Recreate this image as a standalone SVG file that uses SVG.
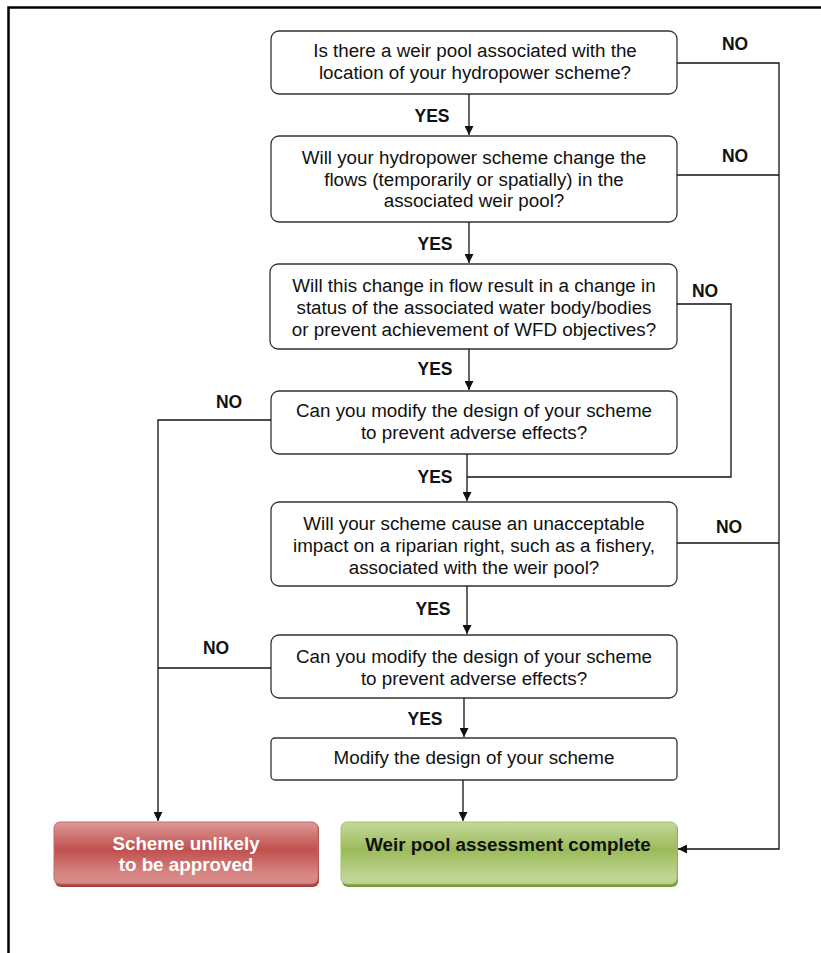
<svg xmlns="http://www.w3.org/2000/svg" width="821" height="953" viewBox="0 0 821 953">
<style>
.box{fill:#fff;stroke:#333;stroke-width:1.3}
.t{font-family:"Liberation Sans",Arial,sans-serif;font-size:18.8px;fill:#111;text-anchor:middle}
.lbl{font-family:"Liberation Sans",Arial,sans-serif;font-size:17.5px;font-weight:bold;fill:#111;text-anchor:middle}
.c{fill:none;stroke:#111;stroke-width:1.3}
.w{font-family:"Liberation Sans",Arial,sans-serif;font-size:18.8px;font-weight:bold;text-anchor:middle}
</style>
<defs>
<marker id="ah" viewBox="0 0 10 10" refX="10" refY="5" markerWidth="9" markerHeight="9" markerUnits="userSpaceOnUse" orient="auto">
<path d="M0,0 L10,5 L0,10 z" fill="#111"/>
</marker>
<linearGradient id="gr" x1="0" y1="0" x2="0" y2="1">
<stop offset="0" stop-color="#dc9a98"/>
<stop offset="0.45" stop-color="#c0504d"/>
<stop offset="0.85" stop-color="#d88886"/>
<stop offset="1" stop-color="#d58a88"/>
</linearGradient>
<linearGradient id="gg" x1="0" y1="0" x2="0" y2="1">
<stop offset="0" stop-color="#c4d89c"/>
<stop offset="0.45" stop-color="#9bbb59"/>
<stop offset="0.85" stop-color="#bcd390"/>
<stop offset="1" stop-color="#c0d596"/>
</linearGradient>
</defs>
<rect width="821" height="953" fill="#fff"/>
<path d="M8.5,953 V7.5 H821" fill="none" stroke="#000" stroke-width="2.5"/>

<g id="n1"><rect class="box" x="271" y="31" width="406" height="63" rx="8"/>
<text class="t" x="475" y="57">Is there a weir pool associated with the</text>
<text class="t" x="475" y="79">location of your hydropower scheme?</text></g>

<g id="n2"><rect class="box" x="271" y="136" width="406" height="86" rx="8"/>
<text class="t" x="474" y="164">Will your hydropower scheme change the</text>
<text class="t" x="474" y="186">flows (temporarily or spatially) in the</text>
<text class="t" x="474" y="207">associated weir pool?</text></g>

<g id="n3"><rect class="box" x="270" y="264" width="407" height="85" rx="8"/>
<text class="t" x="474" y="292">Will this change in flow result in a change in</text>
<text class="t" x="474" y="314">status of the associated water body/bodies</text>
<text class="t" x="474" y="336">or prevent achievement of WFD objectives?</text></g>

<g id="n4"><rect class="box" x="271" y="391" width="406" height="63" rx="8"/>
<text class="t" x="474" y="417">Can you modify the design of your scheme</text>
<text class="t" x="474" y="439">to prevent adverse effects?</text></g>

<g id="n5"><rect class="box" x="271" y="502" width="406" height="84" rx="8"/>
<text class="t" x="474" y="530">Will your scheme cause an unacceptable</text>
<text class="t" x="474" y="552">impact on a riparian right, such as a fishery,</text>
<text class="t" x="474" y="574">associated with the weir pool?</text></g>

<g id="n6"><rect class="box" x="271" y="635" width="406" height="63" rx="8"/>
<text class="t" x="474" y="663">Can you modify the design of your scheme</text>
<text class="t" x="474" y="685">to prevent adverse effects?</text></g>

<g id="n7"><rect class="box" x="271" y="738" width="406" height="42" rx="4"/>
<text class="t" x="474" y="764">Modify the design of your scheme</text></g>

<g id="n8"><rect x="55" y="823" width="264" height="64" rx="6" fill="#a84340"/>
<rect x="54" y="822" width="264" height="62" rx="6" fill="url(#gr)" stroke="#c46a68" stroke-width="1"/>
<text class="w" x="186" y="850" fill="#fff">Scheme unlikely</text>
<text class="w" x="186" y="871" fill="#fff">to be approved</text></g>

<g id="n9"><rect x="342" y="823" width="336" height="64" rx="6" fill="#7c9a3e"/>
<rect x="341" y="822" width="336" height="62" rx="6" fill="url(#gg)" stroke="#a6c36c" stroke-width="1"/>
<text class="w" x="508" y="851" fill="#111">Weir pool assessment complete</text></g>

<g id="connectors">
<path class="c" d="M469,94 V135" marker-end="url(#ah)"/>
<path class="c" d="M469,222 V263" marker-end="url(#ah)"/>
<path class="c" d="M469,349 V390" marker-end="url(#ah)"/>
<path class="c" d="M467,454 V501" marker-end="url(#ah)"/>
<path class="c" d="M467,586 V634" marker-end="url(#ah)"/>
<path class="c" d="M464,698 V737" marker-end="url(#ah)"/>
<path class="c" d="M463,780 V821" marker-end="url(#ah)"/>
<path class="c" d="M677,63 H779 V849 H678" marker-end="url(#ah)"/>
<path class="c" d="M677,175 H779"/>
<path class="c" d="M677,543 H779"/>
<path class="c" d="M677,304 H731 V477 H467"/>
<path class="c" d="M271,420 H158 V821" marker-end="url(#ah)"/>
<path class="c" d="M271,668 H158"/>
<text class="lbl" x="735" y="50">NO</text>
<text class="lbl" x="735" y="162">NO</text>
<text class="lbl" x="705" y="297">NO</text>
<text class="lbl" x="229" y="408">NO</text>
<text class="lbl" x="729" y="533">NO</text>
<text class="lbl" x="216" y="654">NO</text>
<text class="lbl" x="432" y="122">YES</text>
<text class="lbl" x="435" y="250">YES</text>
<text class="lbl" x="435" y="375">YES</text>
<text class="lbl" x="435" y="483">YES</text>
<text class="lbl" x="433" y="615">YES</text>
<text class="lbl" x="425" y="725">YES</text>
</g>
</svg>
